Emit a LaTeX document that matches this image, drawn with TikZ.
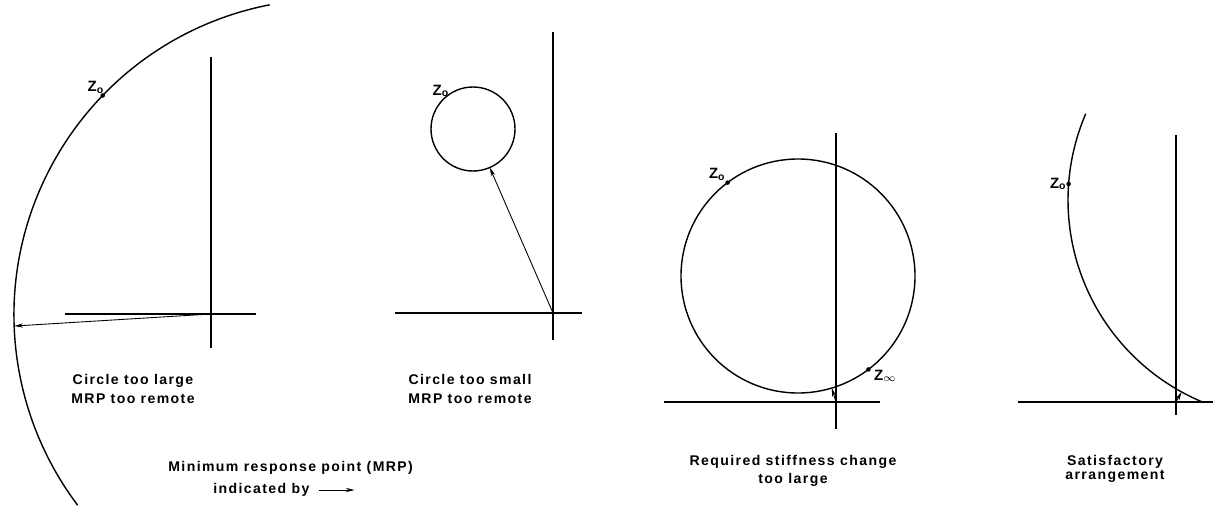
\documentclass[tikz,border=0pt]{standalone}
\usepackage{fontspec}
\setmainfont{Liberation Sans}[LetterSpace=10]
\usetikzlibrary{arrows.meta,positioning,calc}
\newcommand{\zsub}[1]{Z\textsubscript{#1}}

\begin{document}
\begin{tikzpicture}[x=0.02cm, y=0.02cm,
    axisline/.style={line width=0.8pt},
    curve/.style={line width=0.8pt},
    mrparrow/.style={line width=0.5pt, -{Stealth[length=5pt,width=2.4pt]}},
    capt/.style={font=\fontsize{8}{10.5}\selectfont\bfseries, align=center, inner sep=0pt},
    zlab/.style={font=\fontsize{8.5}{9}\selectfont\bfseries, inner sep=1pt}]
  \useasboundingbox (0,0) rectangle (1217,512);

  % circle too large
  \coordinate (c1) at (330,197);
  \coordinate (o1) at (211,198);
  \draw[curve] ($(c1)+(101:316)$) arc[start angle=101, end angle=217, radius=316];
  \draw[axisline] (211,455) -- (211,164);
  \draw[axisline] (65,198) -- (256,198);
  \coordinate (m1) at ($(c1)+(182:316)$);
  \draw[mrparrow] (o1) -- (m1);
  \coordinate (z1) at ($(c1)+(136:316)$);
  \fill (z1) circle (1.3pt);
  \node[zlab, above left=0pt and -2pt of z1] (z1lab) {\zsub{o}};
  \node[capt] (cap1) at (133,123) {Circle too large\\MRP too remote};

  % circle too small
  \coordinate (c2) at (473,383);
  \coordinate (o2) at (553,199);
  \draw[curve] (c2) circle (42);
  \draw[axisline] (553,480) -- (553,172);
  \draw[axisline] (395,199) -- (582,199);
  \draw[mrparrow] (o2) -- ($(c2)!0.84cm!(o2)$);
  \coordinate (z2) at ($(c2)+(127:42)$);
  \node[zlab, above left=-2pt and -2pt of z2] (z2lab) {\zsub{o}};
  \node[capt] (cap2) at (470,123) {Circle too small\\MRP too remote};

  % stiffness change too large
  \coordinate (c3) at (798,236);
  \coordinate (o3) at (836,110);
  \draw[curve] (c3) circle (117);
  \draw[axisline] (836,379) -- (836,83);
  \draw[axisline] (664,110) -- (880,110);
  \draw[mrparrow] (o3) -- ($(c3)!2.34cm!(o3)$);
  \coordinate (z3) at ($(c3)+(127:117)$);
  \fill (z3) circle (1.3pt);
  \node[zlab, above left=0pt and 0pt of z3] (z3lab) {\zsub{o}};
  \coordinate (zi3) at ($(c3)+(-53:117)$);
  \fill (zi3) circle (1.3pt);
  \node[zlab, below right=-1pt and 2pt of zi3] (zi3lab) {\zsub{$\infty$}};
  \node[capt] (cap3) at (793,41) {Required stiffness change\\too large};

  % satisfactory
  \coordinate (c4) at (1287,312);
  \coordinate (o4) at (1176,110);
  \draw[curve] ($(c4)+(156.8:219)$) arc[start angle=156.8, end angle=247.2, radius=219];
  \draw[axisline] (1176,377) -- (1176,97);
  \draw[axisline] (1018,110) -- (1213,110);
  \draw[mrparrow] (o4) -- ($(c4)!4.38cm!(o4)$);
  \coordinate (z4) at ($(c4)+(175.8:219)$);
  \fill (z4) circle (1.3pt);
  \node[zlab, left=0pt of z4] (z4lab) {\zsub{o}};
  \node[capt, font=\fontsize{8}{8}\selectfont\bfseries] (cap4) at (1115,43) {Satisfactory\\arrangement};

  % legend
  \node[capt, anchor=west] (legtop) at (168,44) {Minimum response point (MRP)};
  \node[capt, anchor=west] (legbot) at (213,22) {indicated by};
  \draw[mrparrow] ([xshift=5pt]legbot.east) -- ++(36,0);
\end{tikzpicture}
\end{document}
